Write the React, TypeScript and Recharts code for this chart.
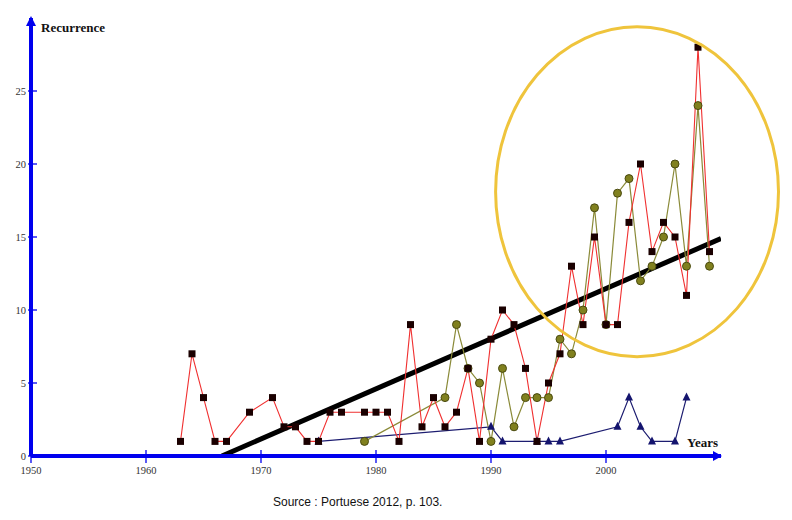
import { LineChart, Line, XAxis, YAxis, ReferenceDot } from "recharts";

const redYears = [1963, 1964, 1965, 1966, 1967, 1969, 1971, 1972, 1973, 1974, 1975, 1976, 1977, 1979, 1980, 1981, 1982, 1983, 1984, 1985, 1986, 1987, 1988, 1989, 1990, 1991, 1992, 1993, 1994, 1995, 1996, 1997, 1998, 1999, 2000, 2001, 2002, 2003, 2004, 2005, 2006, 2007, 2008, 2009];
const redValues = [1, 7, 4, 1, 1, 3, 4, 2, 2, 1, 1, 3, 3, 3, 3, 3, 1, 9, 2, 4, 2, 3, 6, 1, 8, 10, 9, 6, 1, 5, 7, 13, 9, 15, 9, 9, 16, 20, 14, 16, 15, 11, 28, 14];

const oliveYears = [1979, 1986, 1987, 1988, 1989, 1990, 1991, 1992, 1993, 1994, 1995, 1996, 1997, 1998, 1999, 2000, 2001, 2002, 2003, 2004, 2005, 2006, 2007, 2008, 2009];
const oliveValues = [1, 4, 9, 6, 5, 1, 6, 2, 4, 4, 4, 8, 7, 10, 17, 9, 18, 19, 12, 13, 15, 20, 13, 24, 13];

const blueYears = [1975, 1990, 1991, 1994, 1995, 1996, 2001, 2002, 2003, 2004, 2006, 2007];
const blueValues = [1, 2, 1, 1, 1, 1, 2, 4, 2, 1, 1, 4];

const trendYears = [1966.6, 2010];
const trendValues = [0, 14.9];

const xTicks = [1950, 1960, 1970, 1980, 1990, 2000];
const yTicks = [0, 5, 10, 15, 20, 25];

// highlight ellipse, in data units
const ellipseCenter = { year: 2002.7, value: 18.1 };
const ellipseRadius = { years: 12.3, values: 11.3 };

const toRows = (years: number[], values: number[]) =>
  years.map((year, i) => ({ year, value: values[i] }));

const redData = toRows(redYears, redValues);
const oliveData = toRows(oliveYears, oliveValues);
const blueData = toRows(blueYears, blueValues);
const trendData = toRows(trendYears, trendValues);

const W = 792;
const H = 520;
const margin = { top: 18, right: 71, bottom: 0, left: 0 };
const yAxisWidth = 31;
const xAxisHeight = 64;
const plotW = W - margin.left - margin.right - yAxisWidth;
const plotH = H - margin.top - margin.bottom - xAxisHeight;
const pxPerYear = plotW / 60;
const pxPerUnit = plotH / 30;

const AXIS = "#0000ee";
const serif = "'Liberation Serif', 'Times New Roman', serif";

const XTick = (props: any) => {
  const { x, y, payload } = props;
  return (
    <g>
      <line x1={x} y1={y - 6} x2={x} y2={y + 7} stroke={AXIS} strokeWidth={1.3} />
      <text x={x} y={y + 18} textAnchor="middle" fontFamily={serif} fontSize={10.5} fill="#333">
        {payload.value}
      </text>
    </g>
  );
};

const YTick = (props: any) => {
  const { x, y, payload } = props;
  return (
    <g>
      <line x1={x - 3} y1={y} x2={x + 6} y2={y} stroke={AXIS} strokeWidth={1.3} />
      <text x={x - 5} y={y + 4} textAnchor="end" fontFamily={serif} fontSize={10.5} fill="#333">
        {payload.value}
      </text>
    </g>
  );
};

const SquareDot = (props: any) => {
  const { cx, cy, index } = props;
  return <rect key={`sq-${index}`} x={cx - 3.5} y={cy - 3.5} width={7} height={7} fill="#1a0000" />;
};

const CircleDot = (props: any) => {
  const { cx, cy, index } = props;
  return <circle key={`ci-${index}`} cx={cx} cy={cy} r={4} fill="#80801e" stroke="#4a4a10" strokeWidth={1} />;
};

const TriangleDot = (props: any) => {
  const { cx, cy, index } = props;
  return (
    <polygon
      key={`tr-${index}`}
      points={`${cx},${cy - 5} ${cx - 4},${cy + 3} ${cx + 4},${cy + 3}`}
      fill="#14146e"
    />
  );
};

export default function App() {
  return (
    <div style={{ position: "absolute", left: 0, top: 0, width: W, height: H, background: "#fff" }}>
      <LineChart width={W} height={H} margin={margin}>
        <XAxis
          dataKey="year"
          type="number"
          domain={[1950, 2010]}
          ticks={xTicks}
          allowDataOverflow
          height={xAxisHeight}
          axisLine={{ stroke: AXIS, strokeWidth: 4 }}
          tickLine={false}
          tickSize={0}
          tickMargin={0}
          tick={<XTick />}
          interval={0}
        />
        <YAxis
          type="number"
          domain={[0, 30]}
          ticks={yTicks}
          allowDataOverflow
          width={yAxisWidth}
          axisLine={{ stroke: AXIS, strokeWidth: 4 }}
          tickLine={false}
          tickSize={0}
          tickMargin={0}
          tick={<YTick />}
          interval={0}
        />
        <Line
          data={trendData}
          dataKey="value"
          type="linear"
          stroke="#000"
          strokeWidth={5}
          dot={false}
          isAnimationActive={false}
        />
        <Line
          data={blueData}
          dataKey="value"
          type="linear"
          stroke="#1c1c70"
          strokeWidth={1.2}
          dot={TriangleDot}
          isAnimationActive={false}
        />
        <Line
          data={oliveData}
          dataKey="value"
          type="linear"
          stroke="#8a8a38"
          strokeWidth={1.2}
          dot={CircleDot}
          isAnimationActive={false}
        />
        <Line
          data={redData}
          dataKey="value"
          type="linear"
          stroke="#f03030"
          strokeWidth={1.1}
          dot={SquareDot}
          isAnimationActive={false}
        />
        <ReferenceDot
          x={2010}
          y={0}
          ifOverflow="visible"
          shape={(p: any) => (
            <polygon points={`${p.cx + 1},${p.cy} ${p.cx - 8},${p.cy - 5} ${p.cx - 8},${p.cy + 5}`} fill={AXIS} />
          )}
        />
        <ReferenceDot
          x={1950}
          y={30}
          ifOverflow="visible"
          shape={(p: any) => (
            <polygon points={`${p.cx},${p.cy - 2} ${p.cx - 5},${p.cy + 8} ${p.cx + 5},${p.cy + 8}`} fill={AXIS} />
          )}
        />
        <ReferenceDot
          x={ellipseCenter.year}
          y={ellipseCenter.value}
          ifOverflow="visible"
          shape={(p: any) => (
            <ellipse
              cx={p.cx}
              cy={p.cy}
              rx={ellipseRadius.years * pxPerYear}
              ry={ellipseRadius.values * pxPerUnit}
              fill="none"
              stroke="#efc43c"
              strokeWidth={3}
            />
          )}
        />
      </LineChart>
      <div style={{ position: "absolute", left: 41, top: 21, fontFamily: serif, fontWeight: "bold", fontSize: 13, lineHeight: "13px", color: "#111" }}>
        Recurrence
      </div>
      <div style={{ position: "absolute", left: 687, top: 436, fontFamily: serif, fontWeight: "bold", fontSize: 13, lineHeight: "13px", color: "#111" }}>
        Years
      </div>
      <div style={{ position: "absolute", left: 273, top: 496, fontFamily: "'Liberation Sans', Arial, sans-serif", fontSize: 12, lineHeight: "12px", color: "#111" }}>
        Source : Portuese 2012, p. 103.
      </div>
    </div>
  );
}
